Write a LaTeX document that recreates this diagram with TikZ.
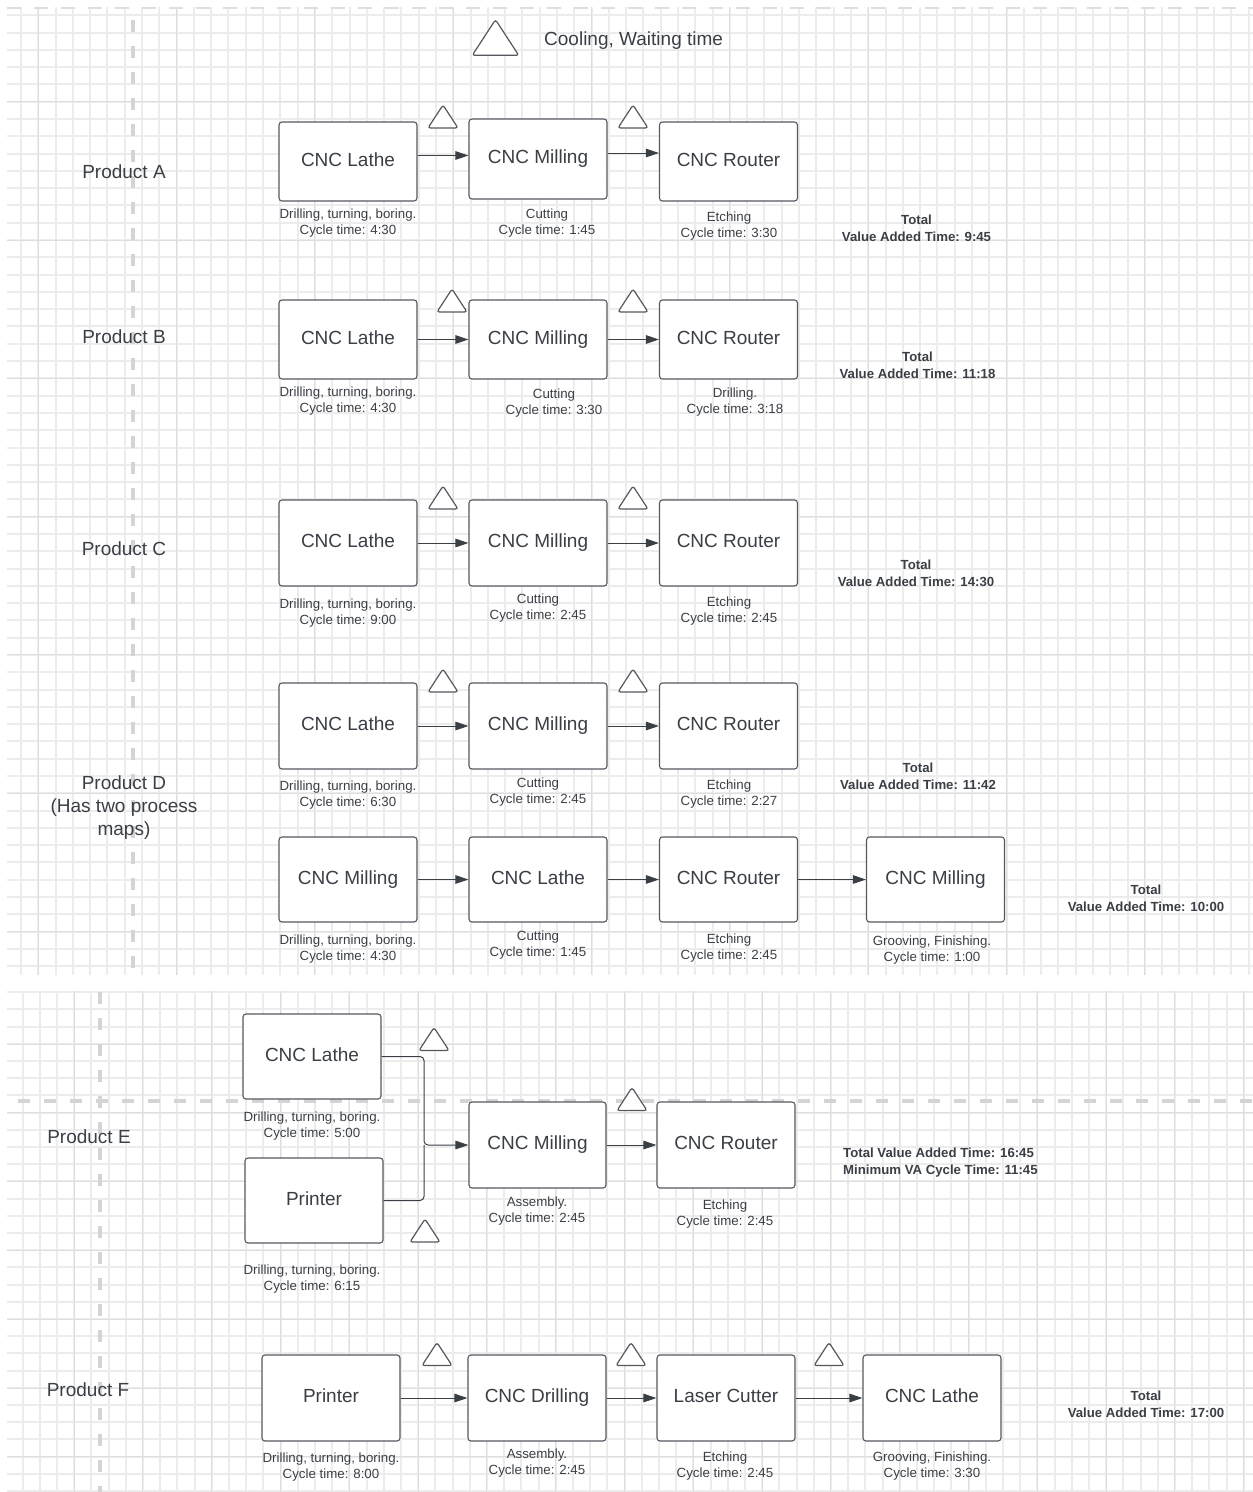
\documentclass[tikz,border=0pt]{standalone}
\usepackage{fontspec}
\setmainfont{Liberation Sans}
\usetikzlibrary{arrows.meta,calc}

\definecolor{ink}{RGB}{58,63,70}
\definecolor{edge}{RGB}{84,88,95}
\definecolor{gridminor}{RGB}{236,236,236}
\definecolor{gridmajor}{RGB}{222,222,222}
\definecolor{lane}{RGB}{212,212,212}

\tikzset{
  station/.style={draw=edge, line width=1.1pt, rounded corners=3pt, fill=white,
    minimum width=138pt, minimum height=86pt, inner sep=0pt, text=ink,
    font=\fontsize{19}{23}\selectfont, text height=14.25pt, text depth=4.75pt},
  note/.style={text=ink, font=\fontsize{13.3}{16}\selectfont, align=center, inner sep=0pt},
  total/.style={text=ink, font=\bfseries\fontsize{13.2}{17}\selectfont, align=center, inner sep=0pt},
  lanetext/.style={text=ink, font=\fontsize{19}{23}\selectfont, align=center, inner sep=0pt},
  lanelabel/.style={lanetext, text height=14.25pt, text depth=4.75pt},
  flow/.style={draw=ink, line width=1pt, -{Triangle[length=13pt,width=8.5pt]}},
  feed/.style={draw=ink, line width=1pt},
  minorline/.style={draw=gridminor, line width=2pt},
  majorline/.style={draw=gridmajor, line width=1pt},
  laneline/.style={draw=lane, line width=4pt, dash pattern=on 12pt off 14pt},
  waittri/.pic={\draw[edge, line width=1.2pt, rounded corners=2.5pt, fill=white]
    (-15,11.5) -- (0,-11.5) -- (15,11.5) -- cycle;}
}

\begin{document}
\begin{tikzpicture}[x=1pt,y=-1pt]
\useasboundingbox (0,0) rectangle (1253,1492);

% ---------- upper sheet: grid ----------
\begin{scope}
  \clip (7,7) rectangle (1253,975);
  \foreach \i in {-1,...,70} \draw[minorline] ({38.3+17.29*\i},7) -- ({38.3+17.29*\i},975);
  \foreach \i in {-5,...,50} \draw[minorline] (7,{101.7+17.29*\i}) -- (1253,{101.7+17.29*\i});
  \foreach \i in {0,...,8} \draw[majorline] ({38.3+138.32*\i},7) -- ({38.3+138.32*\i},975);
  \foreach \i in {0,...,6} \draw[majorline] (7,{101.7+138.32*\i}) -- (1253,{101.7+138.32*\i});
\end{scope}
\draw[draw=gridmajor, line width=2pt, dash pattern=on 14pt off 13pt] (7,8) -- (1253,8);
\draw[laneline] (133,20) -- (133,975);

% ---------- lower sheet: grid ----------
\begin{scope}
  \clip (7,991) rectangle (1253,1492);
  \foreach \i in {1,...,72} \draw[minorline] ({5.3+17.2*\i},991) -- ({5.3+17.2*\i},1492);
  \foreach \i in {-1,...,28} \draw[minorline] (7,{1009.3+17.2*\i}) -- (1253,{1009.3+17.2*\i});
  \foreach \i in {1,...,18} \draw[majorline] ({5.3+68.8*\i},991) -- ({5.3+68.8*\i},1492);
  \foreach \i in {0,...,6} \draw[majorline] (7,{1044+68.8*\i}) -- (1253,{1044+68.8*\i});
\end{scope}
\draw[laneline] (100,992) -- (100,1492);
\draw[laneline] (18,1100.5) -- (1253,1100.5);

% ---------- legend ----------
\pic[scale=1.55] at (495.5,37.5) {waittri};
\node[lanelabel, anchor=west] (legend) at (544,41.2) {Cooling, Waiting time};

% ---------- Product A ----------
\node[lanelabel] (labA) at (124,174) {Product A};
\node[station, minimum height=79pt] (aLathe) at (348,161.5) {CNC Lathe};
\node[station, minimum height=80pt] (aMill) at (538,159) {CNC Milling};
\node[station, minimum height=79pt] (aRouter) at (728.5,161.5) {CNC Router};
\draw[flow] ([yshift=6pt]aLathe.east) -- ([yshift=6pt]aLathe.east -| aMill.west);
\draw[flow] ([yshift=6pt]aMill.east) -- ([yshift=6pt]aMill.east -| aRouter.west);
\pic at (443,116.5) {waittri};
\pic at (633,116.5) {waittri};
\node[note] (aLatheN) at (348,223.5) {Drilling, turning, boring.\\Cycle time: 4:30};
\node[note] (aMillN) at (547,223) {Cutting\\Cycle time: 1:45};
\node[note] (aRouterN) at (729,226) {Etching\\Cycle time: 3:30};
\node[total] (aTotal) at (916.5,228.5) {Total\\Value Added Time: 9:45};

% ---------- Product B ----------
\node[lanelabel] (labB) at (124,339) {Product B};
\node[station, minimum height=79pt] (bLathe) at (348,339.5) {CNC Lathe};
\node[station, minimum height=79pt] (bMill) at (538,339.5) {CNC Milling};
\node[station, minimum height=79pt] (bRouter) at (728.5,339.5) {CNC Router};
\draw[flow] (bLathe) -- (bMill);
\draw[flow] (bMill) -- (bRouter);
\pic at (452,300.5) {waittri};
\pic at (633,300.5) {waittri};
\node[note] (bLatheN) at (348,401.5) {Drilling, turning, boring.\\Cycle time: 4:30};
\node[note] (bMillN) at (554,403) {Cutting\\Cycle time: 3:30};
\node[note] (bRouterN) at (735,402) {Drilling.\\Cycle time: 3:18};
\node[total] (bTotal) at (917.5,365.5) {Total\\Value Added Time: 11:18};

% ---------- Product C ----------
\node[lanelabel] (labC) at (124,551) {Product C};
\node[station] (cLathe) at (348,543) {CNC Lathe};
\node[station] (cMill) at (538,543) {CNC Milling};
\node[station] (cRouter) at (728.5,543) {CNC Router};
\draw[flow] (cLathe) -- (cMill);
\draw[flow] (cMill) -- (cRouter);
\pic at (443,497.5) {waittri};
\pic at (633,497.5) {waittri};
\node[note] (cLatheN) at (348,613.5) {Drilling, turning, boring.\\Cycle time: 9:00};
\node[note] (cMillN) at (538,608.5) {Cutting\\Cycle time: 2:45};
\node[note] (cRouterN) at (729,611.5) {Etching\\Cycle time: 2:45};
\node[total] (cTotal) at (916,573) {Total\\Value Added Time: 14:30};

% ---------- Product D, first map ----------
\node[lanetext] (labD) at (124,808) {Product D\\(Has two process\\maps)};
\node[station] (dLathe) at (348,726) {CNC Lathe};
\node[station] (dMill) at (538,726) {CNC Milling};
\node[station] (dRouter) at (728.5,726) {CNC Router};
\draw[flow] (dLathe) -- (dMill);
\draw[flow] (dMill) -- (dRouter);
\pic at (443,680.5) {waittri};
\pic at (633,680.5) {waittri};
\node[note] (dLatheN) at (348,795.5) {Drilling, turning, boring.\\Cycle time: 6:30};
\node[note] (dMillN) at (538,792) {Cutting\\Cycle time: 2:45};
\node[note] (dRouterN) at (729,794.5) {Etching\\Cycle time: 2:27};
\node[total] (dTotal) at (918,776.5) {Total\\Value Added Time: 11:42};

% ---------- Product D, second map ----------
\node[station, minimum height=85pt] (d2Mill) at (348,879.5) {CNC Milling};
\node[station, minimum height=85pt] (d2Lathe) at (538,879.5) {CNC Lathe};
\node[station, minimum height=85pt] (d2Router) at (728.5,879.5) {CNC Router};
\node[station, minimum height=85pt] (d2Mill2) at (935.5,879.5) {CNC Milling};
\draw[flow] (d2Mill) -- (d2Lathe);
\draw[flow] (d2Lathe) -- (d2Router);
\draw[flow] (d2Router) -- (d2Mill2);
\node[note] (d2MillN) at (348,949.5) {Drilling, turning, boring.\\Cycle time: 4:30};
\node[note] (d2LatheN) at (538,945.5) {Cutting\\Cycle time: 1:45};
\node[note] (d2RouterN) at (729,948) {Etching\\Cycle time: 2:45};
\node[note] (d2Mill2N) at (932,950.5) {Grooving, Finishing.\\Cycle time: 1:00};
\node[total] (d2Total) at (1146,898) {Total\\Value Added Time: 10:00};

% ---------- Product E ----------
\node[lanelabel] (labE) at (89,1139) {Product E};
\node[station, minimum height=85pt] (eLathe) at (312,1056.5) {CNC Lathe};
\node[station, minimum height=85pt] (ePrinter) at (314,1200.5) {Printer};
\node[station, minimum width=137pt] (eMill) at (537.5,1145) {CNC Milling};
\node[station] (eRouter) at (726,1145) {CNC Router};
\coordinate (eJoin) at (424,1145);
\draw[flow, rounded corners=4pt] (eLathe.east) -| (eJoin) -- (eMill.west);
\draw[feed, rounded corners=4pt] (ePrinter.east) -| (eJoin);
\draw[flow] (eMill) -- (eRouter);
\pic at (434,1039) {waittri};
\pic at (632,1099) {waittri};
\pic at (425,1230.5) {waittri};
\node[note] (eLatheN) at (312,1126.5) {Drilling, turning, boring.\\Cycle time: 5:00};
\node[note] (ePrinterN) at (312,1279.5) {Drilling, turning, boring.\\Cycle time: 6:15};
\node[note] (eMillN) at (537,1211.5) {Assembly.\\Cycle time: 2:45};
\node[note] (eRouterN) at (725,1214.5) {Etching\\Cycle time: 2:45};
\node[total, align=left, anchor=west] (eTotal) at (843,1162.4)
  {Total Value Added Time: 16:45\\Minimum VA Cycle Time: 11:45};

% ---------- Product F ----------
\node[lanelabel] (labF) at (88,1392) {Product F};
\node[station] (fPrinter) at (331,1398) {Printer};
\node[station] (fDrill) at (537,1398) {CNC Drilling};
\node[station] (fLaser) at (726,1398) {Laser Cutter};
\node[station] (fLathe) at (932,1398) {CNC Lathe};
\draw[flow] (fPrinter) -- (fDrill);
\draw[flow] (fDrill) -- (fLaser);
\draw[flow] (fLaser) -- (fLathe);
\pic at (437,1354) {waittri};
\pic at (631,1354) {waittri};
\pic at (829,1354) {waittri};
\node[note] (fPrinterN) at (331,1467.5) {Drilling, turning, boring.\\Cycle time: 8:00};
\node[note] (fDrillN) at (537,1463.5) {Assembly.\\Cycle time: 2:45};
\node[note] (fLaserN) at (725,1466.5) {Etching\\Cycle time: 2:45};
\node[note] (fLatheN) at (932,1466.5) {Grooving, Finishing.\\Cycle time: 3:30};
\node[total] (fTotal) at (1146,1404) {Total\\Value Added Time: 17:00};
\end{tikzpicture}
\end{document}
